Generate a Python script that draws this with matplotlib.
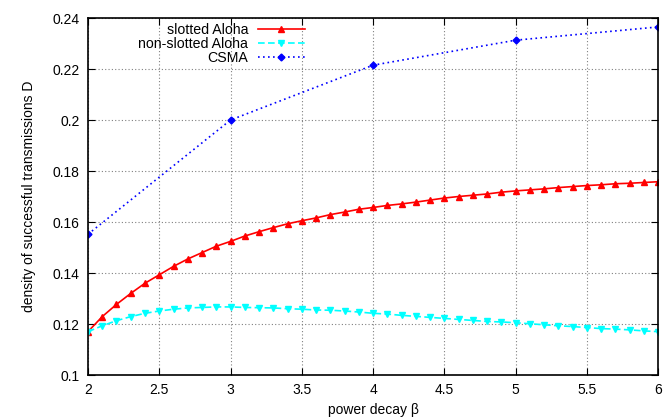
import numpy as np
import matplotlib
matplotlib.use('Agg')
import matplotlib.pyplot as plt

plt.rcParams['font.family'] = ['Liberation Sans', 'DejaVu Sans']

# beta values for the Aloha curves (step 0.1)
beta = [round(2 + 0.1*i, 1) for i in range(41)]

slotted = [0.1170, 0.1229, 0.1277, 0.1320, 0.1360, 0.1393, 0.1426, 0.1455, 0.1480, 0.1505,
           0.1524, 0.1545, 0.1562, 0.1578, 0.1593, 0.1605, 0.1616, 0.1629, 0.1639, 0.1650,
           0.1657, 0.1665, 0.1671, 0.1678, 0.1686, 0.1694, 0.1700, 0.1705, 0.1710, 0.1717,
           0.1722, 0.1726, 0.1730, 0.1735, 0.1739, 0.1743, 0.1746, 0.1750, 0.1752, 0.1755,
           0.1758]

nonslotted = [0.1170, 0.1193, 0.1213, 0.1229, 0.1242, 0.1251, 0.1258, 0.1263, 0.1265, 0.1267,
              0.1267, 0.1265, 0.1264, 0.1263, 0.1260, 0.1258, 0.1255, 0.1254, 0.1251, 0.1247,
              0.1242, 0.1239, 0.1234, 0.1230, 0.1226, 0.1222, 0.1218, 0.1214, 0.1210, 0.1208,
              0.1205, 0.1201, 0.1197, 0.1193, 0.1190, 0.1186, 0.1182, 0.1180, 0.1177, 0.1173,
              0.1170]

beta_csma = [2, 3, 4, 5, 6]
csma = [0.1552, 0.2000, 0.2215, 0.2313, 0.2365]

fig = plt.figure(figsize=(6.63, 4.17), dpi=100)
ax = fig.add_axes([0.1327, 0.1007, 0.86, 0.8561])

ax.plot(beta, slotted, color='red', lw=1.2, marker='^', ms=5, label='slotted Aloha')
ax.plot(beta, nonslotted, color='cyan', lw=1.2, ls=(0, (4, 2)), marker='v', ms=5,
        label='non-slotted Aloha')
ax.plot(beta_csma, csma, color='blue', lw=1.2, ls=(0, (1, 2)), marker='D', ms=3.5,
        label='CSMA')

ax.set_xlim(2, 6)
ax.set_ylim(0.1, 0.24)
ax.set_xticks(np.arange(2, 6.01, 0.5))
ax.set_xticklabels(['2', '2.5', '3', '3.5', '4', '4.5', '5', '5.5', '6'])
ax.set_yticks(np.arange(0.1, 0.2401, 0.02))
ax.set_yticklabels(['0.1', '0.12', '0.14', '0.16', '0.18', '0.2', '0.22', '0.24'])
ax.tick_params(direction='in', top=True, right=True, labelsize=10, length=5, pad=6)
ax.grid(True, color='#808080', ls=(0, (1, 2)), lw=0.8)
for s in ax.spines.values():
    s.set_linewidth(1.2)

ax.set_xlabel('power decay β', fontsize=10, labelpad=4)
ax.set_ylabel('density of successful transmissions D', fontsize=10, labelpad=12)

leg = ax.legend(loc='upper right', bbox_to_anchor=(0.395, 1.01), markerfirst=False,
                frameon=False, fontsize=10.2, handlelength=3.3, labelspacing=0.0,
                borderpad=0.1, handletextpad=0.7)
for t in leg.get_texts():
    t.set_ha('right')
leg._legend_box.align = 'right'

fig.savefig('out.png', dpi=100)
